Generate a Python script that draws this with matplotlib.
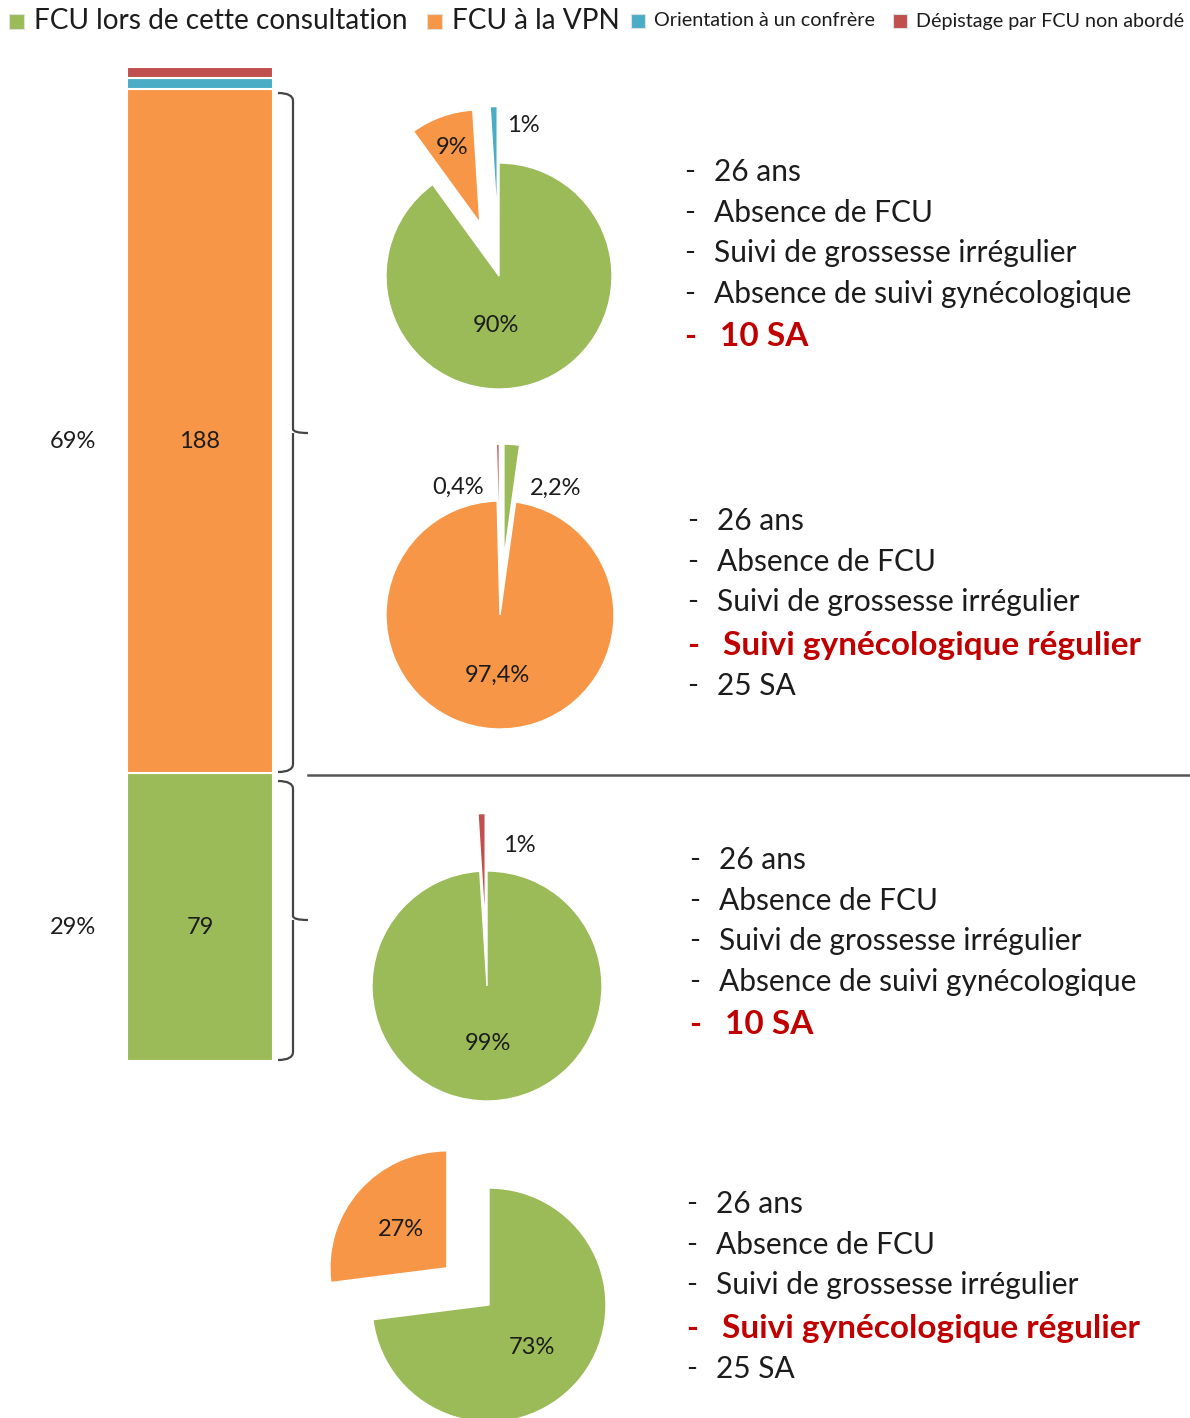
import matplotlib
matplotlib.use("Agg")
import matplotlib.pyplot as plt
from matplotlib.patches import Rectangle, PathPatch
from matplotlib.path import Path as MPath
from matplotlib.transforms import offset_copy

plt.rcParams["font.family"] = ["Lato", "DejaVu Sans"]

W, H = 1190, 1418

GREEN = "#9BBB59"
ORANGE = "#F79646"
BLUE = "#4BACC6"
RED = "#C0504D"
TXT = "#1C1C1C"
HIGHLIGHT = "#C00000"

# legend
legend_labels = ["FCU lors de cette consultation", "FCU à la VPN",
                 "Orientation à un confrère", "Dépistage par FCU non abordé"]
legend_colors = [GREEN, ORANGE, BLUE, RED]

# stacked bar (counts, bottom to top)
bar_counts = [79, 188, 3, 3]
bar_colors = [GREEN, ORANGE, BLUE, RED]
bar_pct_labels = ["29%", "69%", "", ""]

# pies: values in clockwise order starting at 12 o'clock
pie_values = [
    [90, 9, 1],
    [2.2, 97.4, 0.4],
    [99, 1],
    [73, 27],
]
pie_colors = [
    [GREEN, ORANGE, BLUE],
    [GREEN, ORANGE, RED],
    [GREEN, RED],
    [GREEN, ORANGE],
]
pie_explode = [
    [0, 0.5, 0.5],
    [0.5, 0, 0.5],
    [0, 0.5],
    [0, 0.48],
]
pie_labels = [
    ["90%", "9%", "1%"],
    ["2,2%", "97,4%", "0,4%"],
    ["99%", "1%"],
    ["73%", "27%"],
]

# profiles next to each pie
profile_a = ["26 ans", "Absence de FCU", "Suivi de grossesse irrégulier",
             "Absence de suivi gynécologique", "10 SA"]
profile_b = ["26 ans", "Absence de FCU", "Suivi de grossesse irrégulier",
             "Suivi gynécologique régulier", "25 SA"]
profiles = [profile_a, profile_b, profile_a, profile_b]
highlight_idx = [4, 3, 4, 3]

# layout (pixels)
pie_centers = [(499, 276), (500, 615), (487, 986), (489, 1305)]
pie_radius = [113, 114, 115, 117]
pie_label_pos = [
    [(496, 325), (452, 147), (523, 126)],
    [(556, 488), (497, 675), (458, 487)],
    [(488, 1043), (519, 845)],
    [(532, 1347), (401, 1229)],
]
profile_origin = [(688, 172), (691, 521), (693, 860), (690, 1204)]


def px_axes(x0, y0, x1, y1):
    return fig.add_axes([x0 / W, 1 - y1 / H, (x1 - x0) / W, (y1 - y0) / H])


fig = plt.figure(figsize=(W / 100, H / 100), dpi=100)

# --- stacked bar
total = sum(bar_counts)
bax = px_axes(127, 1061 - total * 3.64, 273, 1061)
# labels sit a little below the segment middle, as in the original
lab_tr = offset_copy(bax.transData, fig=fig, y=-10, units="dots")
pct_tr = offset_copy(bax.get_yaxis_transform(), fig=fig, y=-10, units="dots")
bottom = 0
for count, color, pct in zip(bar_counts, bar_colors, bar_pct_labels):
    bax.bar(0, count, width=1.0, bottom=bottom, color=color,
            edgecolor="white", linewidth=1.5)
    if pct:
        bax.text(0, bottom + count / 2, str(count), ha="center", va="center",
                 fontsize=17, color=TXT, transform=lab_tr)
        bax.text(-0.37, bottom + count / 2, pct, ha="center", va="center",
                 fontsize=17, color=TXT, transform=pct_tr)
    bottom += count
bax.set_xlim(-0.5, 0.5)
bax.set_ylim(0, total)
bax.axis("off")

# --- pies
for vals, cols, expl, (cx, cy), r in zip(pie_values, pie_colors, pie_explode,
                                          pie_centers, pie_radius):
    pax = px_axes(cx - 2 * r, cy - 2 * r, cx + 2 * r, cy + 2 * r)
    pax.pie(vals, colors=cols, explode=expl, startangle=90, counterclock=False,
            wedgeprops=dict(edgecolor="white", linewidth=1))
    pax.set_xlim(-2, 2)
    pax.set_ylim(-2, 2)
    pax.axis("off")

# --- overlay for text, braces and separator
ov = fig.add_axes([0, 0, 1, 1], zorder=5)
ov.set_xlim(0, W)
ov.set_ylim(H, 0)
ov.axis("off")
ov.patch.set_alpha(0)

for labels, positions in zip(pie_labels, pie_label_pos):
    for lab, (x, y) in zip(labels, positions):
        ov.text(x, y, lab, ha="center", va="center", fontsize=17, color=TXT)

for lines, hi, (x, y) in zip(profiles, highlight_idx, profile_origin):
    for i, line in enumerate(lines):
        yy = y + 40.7 * i + (2 if i >= hi else 0)
        if i == hi:
            ov.text(x - 4, yy, "-", ha="left", va="center", fontsize=23,
                    color=HIGHLIGHT, fontweight="bold")
            ov.text(x + 32, yy, line, ha="left", va="center", fontsize=24,
                    color=HIGHLIGHT, fontweight="bold")
        else:
            ov.text(x - 4, yy, "-", ha="left", va="center", fontsize=21, color=TXT)
            ov.text(x + 26, yy, line, ha="left", va="center", fontsize=21.5,
                    color=TXT)


def brace(x, top, bottom, mid, width=15):
    tip = x + width
    left = x - width
    verts = [(left, top), (x, top), (x, top + 8),
             (x, mid - 4), (x, mid), (tip, mid),
             (x, mid), (x, mid + 4),
             (x, bottom - 8), (x, bottom), (left, bottom)]
    codes = [MPath.MOVETO, MPath.CURVE3, MPath.CURVE3,
             MPath.LINETO, MPath.CURVE3, MPath.CURVE3,
             MPath.MOVETO, MPath.LINETO,
             MPath.LINETO, MPath.CURVE3, MPath.CURVE3]
    ov.add_patch(PathPatch(MPath(verts, codes), facecolor="none",
                           edgecolor="#444444", linewidth=1.6))


brace(293, 93, 772, 433)
brace(293, 781, 1060, 920)
ov.plot([308, W], [775, 775], color="#555555", linewidth=1.8)

# --- legend
legend_x = [9, 427, 631, 893]
legend_sizes = [20.2, 20.2, 14.2, 14.2]
for lab, col, x, fs in zip(legend_labels, legend_colors, legend_x, legend_sizes):
    sq = 15 if fs > 15 else 14
    ov.add_patch(Rectangle((x, 21 - sq / 2), sq, sq, facecolor=col,
                           edgecolor="#E0E0E0", linewidth=0.8))
    ov.text(x + sq + (10 if fs > 15 else 9), 21, lab, ha="left", va="center",
            fontsize=fs, color=TXT)

fig.savefig("out.png", dpi=100)
